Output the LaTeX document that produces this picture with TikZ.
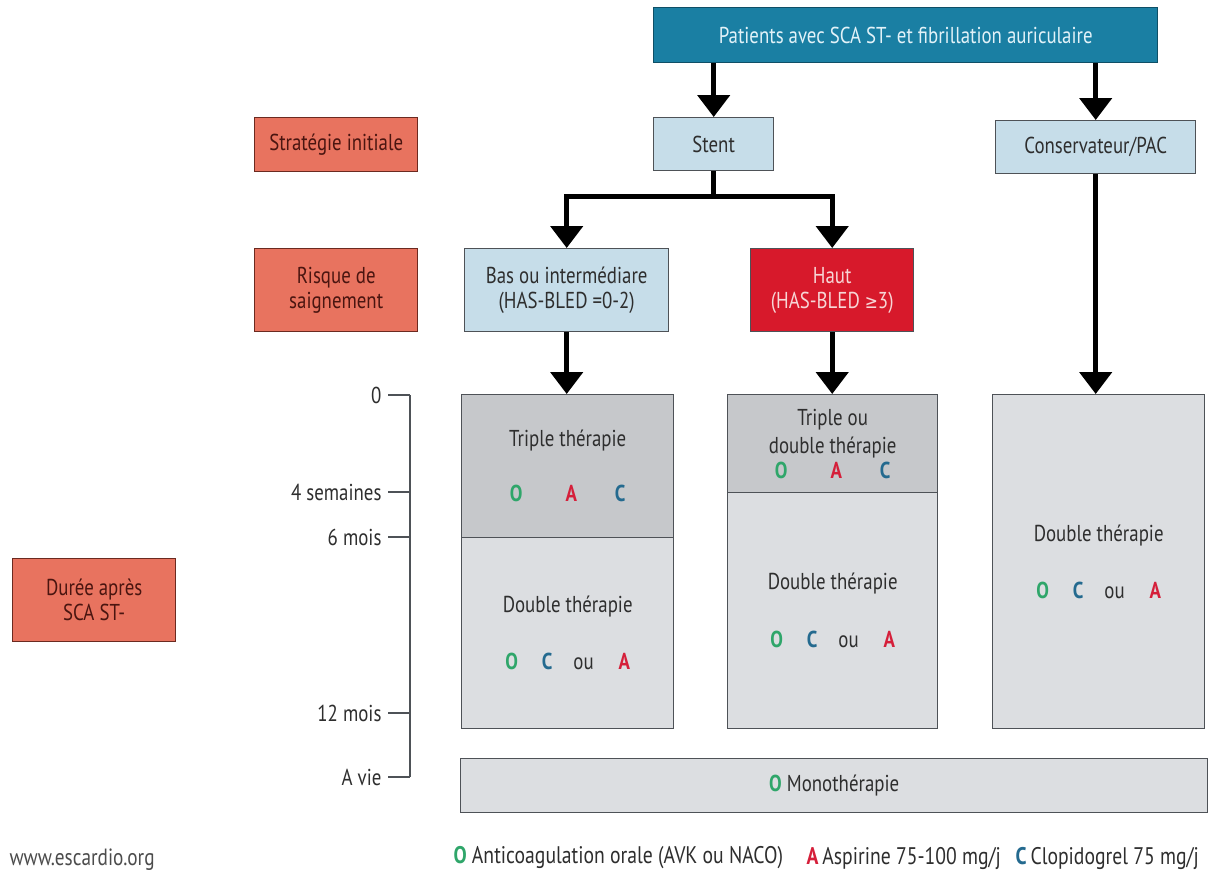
\documentclass[tikz,border=0pt]{standalone}
\usepackage{fontspec}
\setmainfont{PT Sans}[FakeStretch=0.82]
\newfontfamily\symfont{DejaVu Sans}[FakeStretch=0.82]
\usetikzlibrary{arrows.meta,calc}

\definecolor{teal}{HTML}{1A7FA3}
\definecolor{tealdark}{HTML}{0F4F66}
\definecolor{tealtext}{HTML}{E2F2F8}
\definecolor{paleblue}{HTML}{C6DDE9}
\definecolor{salmon}{HTML}{E8735F}
\definecolor{salmondark}{HTML}{6B2A20}
\definecolor{salmontext}{HTML}{4A1510}
\definecolor{riskred}{HTML}{D7192B}
\definecolor{risktext}{HTML}{F7D6D6}
\definecolor{greydark}{HTML}{C6C8CB}
\definecolor{greylight}{HTML}{DCDEE1}
\definecolor{framegrey}{HTML}{4E5257}
\definecolor{inkgrey}{HTML}{2E2E2E}
\definecolor{drugO}{HTML}{2FA66A}
\definecolor{drugA}{HTML}{D51F3A}
\definecolor{drugC}{HTML}{246A8F}

% drug letters
\newcommand\drO{\textcolor{drugO}{\bfseries O}}
\newcommand\drA{\textcolor{drugA}{\bfseries A}}
\newcommand\drC{\textcolor{drugC}{\bfseries C}}
\newcommand\rowOAC{\drO\hspace{43pt}\drA\hspace{38pt}\drC}
\newcommand\rowOCA{\drO\hspace{24pt}\drC\hspace{21pt}ou\hspace{25pt}\drA}

\begin{document}
\begin{tikzpicture}[x=1pt,y=-1pt,
  txt/.style={font=\fontsize{23}{25}\selectfont, text=inkgrey},
  panel/.style={draw=framegrey, line width=1.4pt, inner sep=2pt,
    anchor=north west, align=center, txt},
  headbox/.style={panel, fill=teal, draw=tealdark, text=tealtext},
  catbox/.style={panel, fill=salmon, draw=salmondark, text=salmontext},
  optbox/.style={panel, fill=paleblue},
  highbox/.style={panel, fill=riskred, text=risktext},
  phasebox/.style={panel, fill=greydark},
  restbox/.style={panel, fill=greylight},
  arr/.style={line width=4.8pt, draw=black, line join=miter,
    -{Triangle[width=32pt,length=22pt]}},
  axisline/.style={line width=1.4pt, draw=framegrey},
  ticklabel/.style={anchor=east, txt},
  legendtxt/.style={anchor=west, font=\fontsize{24}{26}\selectfont, text=inkgrey}
]
\useasboundingbox[fill=white] (0,0) rectangle (1211,878);

% header and decision boxes
\node[headbox, minimum width=504pt, minimum height=55pt] (top) at (653,7)
  {Patients avec SCA ST- et fibrillation auriculaire};
\node[catbox, minimum width=163pt, minimum height=54pt] (strat) at (254,117)
  {Stratégie initiale};
\node[catbox, minimum width=163pt, minimum height=83pt] (risk) at (254,248)
  {Risque de\\saignement};
\node[catbox, minimum width=163pt, minimum height=83pt] (dur) at (12,558)
  {Durée après\\SCA ST-};
\node[optbox, minimum width=120pt, minimum height=53pt] (stent) at (653,117)
  {Stent};
\node[optbox, minimum width=200pt, minimum height=53pt] (cons) at (995,120)
  {Conservateur/PAC};
\node[optbox, minimum width=204pt, minimum height=83pt] (low) at (464,248)
  {Bas ou intermédiare\\(HAS-BLED =0-2)};
\node[highbox, minimum width=163pt, minimum height=83pt] (high) at (750,248)
  {Haut\\(HAS-BLED {\symfont\fontsize{19}{20}\selectfont ≥}3)};

% therapy columns
\node[phasebox, minimum width=212pt, minimum height=143pt] (t1) at (461,394)
  {Triple thérapie\\[30pt]\rowOAC};
\node[restbox, minimum width=212pt, minimum height=191pt] (d1) at (461,537)
  {Double thérapie\\[32pt]\rowOCA};
\node[phasebox, minimum width=210pt, minimum height=98pt,
  font=\fontsize{23}{25}\selectfont] (t2) at (727,394)
  {Triple ou\\[3pt]double thérapie\\[0pt]\rowOAC};
\node[restbox, minimum width=210pt, minimum height=236pt] (d2) at (727,492)
  {Double thérapie\\[33pt]\rowOCA};
\node[restbox, minimum width=212pt, minimum height=334pt] (d3) at (992,394)
  {Double thérapie\\[32pt]\rowOCA};
\node[restbox, minimum width=747pt, minimum height=54pt] (mono) at (460,758)
  {\drO\ Monothérapie};

% flow arrows
\draw[arr] (top.south -| stent.north) -- (stent.north);
\draw[arr] (top.south -| cons.north) -- (cons.north);
\coordinate (split) at ($(stent.south)+(0,25)$);
\draw[line width=4.8pt] (stent.south) -- (split);
\draw[arr] (split) -| (low.north);
\draw[arr] (split) -| (high.north);
\draw[arr] (low.south) -- (low.south |- t1.north);
\draw[arr] (high.south) -- (high.south |- t2.north);
\draw[arr] (cons.south) -- (cons.south |- d3.north);

% time axis
\coordinate (ax0) at (410,395);
\coordinate (axE) at (410,777);
\draw[axisline] (ax0) -- (axE);
\foreach \yy/\lab/\nm in {395/0/k0, 492/4 semaines/k1, 537/6 mois/k2,
                          713/12 mois/k3, 777/A vie/k4}{
  \draw[axisline] (388,\yy) -- (410,\yy);
  \node[ticklabel] (\nm) at (385,\yy) {\lab};
}

% footer
\node[legendtxt, text=black!70, font=\fontsize{23.5}{26}\selectfont] (web) at (6,860) {www.escardio.org};
\node[legendtxt] (legO) at (450,858) {\drO\ Anticoagulation orale (AVK ou NACO)};
\node[legendtxt] (legA) at (803,858) {\drA\,Aspirine 75-100 mg/j};
\node[legendtxt] (legC) at (1012,858) {\drC\,Clopidogrel 75 mg/j};
\end{tikzpicture}
\end{document}
